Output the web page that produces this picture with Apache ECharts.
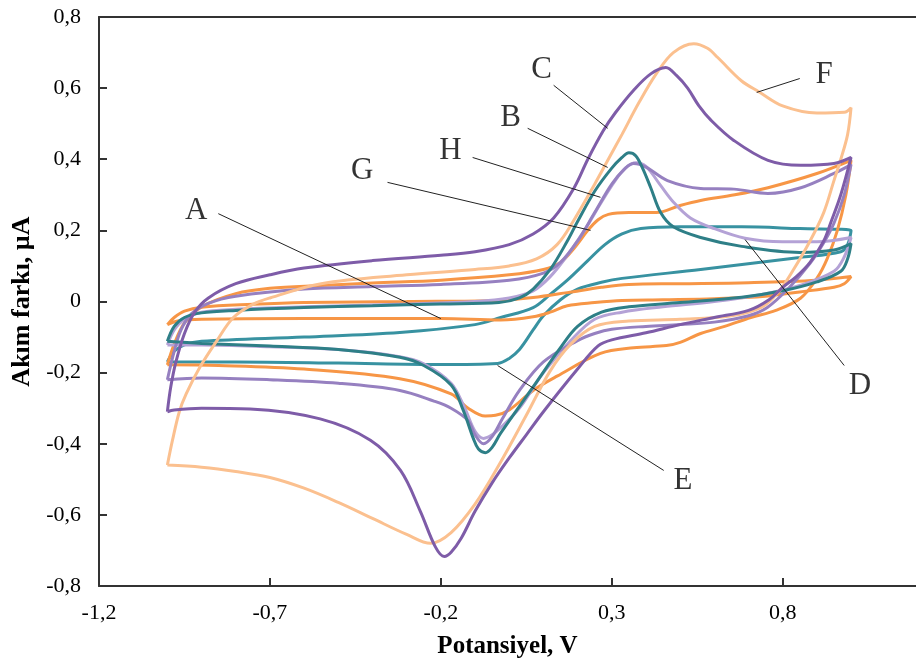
<!DOCTYPE html>
<html><head><meta charset="utf-8">
<script src="https://cdn.jsdelivr.net/npm/echarts@6/dist/echarts.min.js"></script>
<style>html,body{margin:0;padding:0;background:#fff}#chart{width:916px;height:667px}</style>
</head><body><div id="chart"></div>
<script>
// Cyclic voltammograms: [potential V, current µA], forward scan then reverse scan
const curveA = [[-1.0,-0.065],[-0.98,-0.045],[-0.95,-0.027],[-0.9,-0.016],[-0.75,-0.008],[-0.6,-0.003],[-0.3,0.0],[-0.03,0.003],[0.07,0.011],[0.17,0.025],[0.27,0.04],[0.35,0.048],[0.5,0.05],[0.7,0.053],[0.9,0.06],[1.0,0.07],
  [0.98,0.05],[0.95,0.04],[0.85,0.027],[0.75,0.015],[0.6,0.008],[0.45,0.005],[0.33,0.003],[0.25,-0.003],[0.17,-0.012],[0.12,-0.03],[0.07,-0.043],[-0.025,-0.052],[-0.2,-0.048],[-0.6,-0.048],[-0.9,-0.05],[-0.97,-0.055],[-1.0,-0.065]];
const curveB = [[-1.0,-0.112],[-0.98,-0.07],[-0.95,-0.045],[-0.9,-0.032],[-0.8,-0.025],[-0.6,-0.017],[-0.4,-0.012],[-0.2,-0.007],[-0.03,-0.003],[0.03,0.01],[0.07,0.035],[0.12,0.09],[0.17,0.17],[0.2,0.225],[0.25,0.31],[0.3,0.375],[0.33,0.405],[0.35,0.418],[0.37,0.41],[0.39,0.375],[0.414,0.32],[0.443,0.25],[0.48,0.21],[0.56,0.18],[0.68,0.155],[0.85,0.138],[0.95,0.145],[1.0,0.163],
  [0.99,0.12],[0.97,0.085],[0.9,0.055],[0.8,0.03],[0.68,0.012],[0.5,-0.003],[0.35,-0.015],[0.27,-0.03],[0.2,-0.07],[0.15,-0.13],[0.07,-0.24],[-0.025,-0.37],[-0.05,-0.41],[-0.07,-0.425],[-0.09,-0.415],[-0.105,-0.385],[-0.134,-0.307],[-0.17,-0.235],[-0.25,-0.18],[-0.32,-0.157],[-0.5,-0.135],[-0.7,-0.125],[-0.9,-0.118],[-1.0,-0.112]];
const curveC = [[-1.0,-0.31],[-0.99,-0.24],[-0.975,-0.17],[-0.95,-0.09],[-0.92,-0.03],[-0.88,0.01],[-0.8,0.05],[-0.7,0.075],[-0.6,0.094],[-0.4,0.115],[-0.2,0.13],[-0.1,0.14],[0.0,0.16],[0.07,0.19],[0.13,0.235],[0.19,0.32],[0.23,0.4],[0.275,0.48],[0.31,0.53],[0.364,0.594],[0.414,0.64],[0.458,0.658],[0.49,0.635],[0.522,0.6],[0.555,0.55],[0.59,0.51],[0.657,0.453],[0.757,0.397],[0.853,0.383],[0.95,0.388],[1.0,0.405],
  [0.97,0.3],[0.94,0.22],[0.92,0.17],[0.88,0.11],[0.84,0.07],[0.8,0.04],[0.76,0.005],[0.7,-0.025],[0.6,-0.045],[0.5,-0.065],[0.4,-0.088],[0.3,-0.108],[0.26,-0.125],[0.2,-0.19],[0.1,-0.31],[0.05,-0.375],[0.0,-0.44],[-0.05,-0.51],[-0.1,-0.59],[-0.14,-0.665],[-0.17,-0.705],[-0.19,-0.717],[-0.216,-0.69],[-0.26,-0.59],[-0.318,-0.475],[-0.406,-0.39],[-0.553,-0.33],[-0.758,-0.302],[-0.9,-0.3],[-0.98,-0.305],[-1.0,-0.31]];
const curveD = [[-1.0,-0.122],[-0.98,-0.08],[-0.95,-0.05],[-0.9,-0.03],[-0.8,-0.022],[-0.6,-0.015],[-0.3,-0.007],[-0.1,0.0],[0.0,0.01],[0.07,0.03],[0.12,0.07],[0.17,0.13],[0.22,0.2],[0.27,0.28],[0.31,0.34],[0.34,0.375],[0.37,0.39],[0.4,0.38],[0.44,0.33],[0.48,0.28],[0.53,0.235],[0.6,0.205],[0.69,0.178],[0.8,0.168],[0.9,0.168],[1.0,0.18],
  [0.98,0.125],[0.95,0.085],[0.85,0.045],[0.75,0.022],[0.6,0.0],[0.45,-0.015],[0.33,-0.03],[0.25,-0.05],[0.18,-0.11],[0.1,-0.2],[0.03,-0.3],[-0.02,-0.35],[-0.05,-0.375],[-0.075,-0.385],[-0.1,-0.365],[-0.13,-0.3],[-0.17,-0.23],[-0.25,-0.175],[-0.32,-0.155],[-0.5,-0.135],[-0.7,-0.127],[-0.9,-0.122],[-1.0,-0.122]];
const curveE = [[-1.0,-0.17],[-0.98,-0.14],[-0.95,-0.122],[-0.9,-0.112],[-0.6,-0.1],[-0.32,-0.087],[-0.1,-0.065],[-0.025,-0.045],[0.07,-0.017],[0.12,0.02],[0.17,0.06],[0.23,0.115],[0.28,0.16],[0.33,0.19],[0.385,0.205],[0.5,0.21],[0.68,0.21],[0.85,0.205],[1.0,0.2],
  [0.99,0.16],[0.97,0.14],[0.85,0.124],[0.56,0.09],[0.33,0.065],[0.27,0.054],[0.2,0.035],[0.15,0.005],[0.1,-0.04],[0.07,-0.08],[0.03,-0.135],[0.0,-0.16],[-0.034,-0.174],[-0.2,-0.177],[-0.5,-0.173],[-0.8,-0.17],[-1.0,-0.17]];
const curveF = [[-1.0,-0.46],[-0.985,-0.39],[-0.965,-0.31],[-0.945,-0.26],[-0.905,-0.185],[-0.855,-0.11],[-0.807,-0.045],[-0.75,-0.008],[-0.7,0.01],[-0.55,0.05],[-0.3,0.075],[-0.1,0.09],[0.0,0.1],[0.08,0.12],[0.14,0.16],[0.19,0.23],[0.25,0.33],[0.29,0.4],[0.33,0.47],[0.38,0.56],[0.43,0.64],[0.48,0.7],[0.54,0.725],[0.58,0.712],[0.61,0.686],[0.68,0.62],[0.73,0.59],[0.8,0.55],[0.9,0.53],[0.98,0.532],[1.0,0.545],
  [0.99,0.47],[0.97,0.4],[0.95,0.34],[0.92,0.25],[0.88,0.17],[0.83,0.087],[0.79,0.03],[0.74,-0.015],[0.65,-0.04],[0.5,-0.05],[0.35,-0.055],[0.25,-0.07],[0.18,-0.12],[0.12,-0.195],[0.05,-0.32],[-0.03,-0.46],[-0.1,-0.57],[-0.17,-0.65],[-0.23,-0.68],[-0.3,-0.655],[-0.4,-0.61],[-0.5,-0.565],[-0.6,-0.525],[-0.7,-0.495],[-0.8,-0.478],[-0.9,-0.466],[-1.0,-0.46]];
const curveG = [[-1.0,-0.178],[-0.98,-0.12],[-0.95,-0.06],[-0.9,-0.015],[-0.8,0.022],[-0.7,0.037],[-0.55,0.045],[-0.4,0.052],[-0.2,0.06],[0.0,0.075],[0.1,0.09],[0.15,0.11],[0.19,0.15],[0.23,0.2],[0.26,0.23],[0.29,0.245],[0.35,0.25],[0.43,0.25],[0.5,0.27],[0.56,0.284],[0.66,0.3],[0.757,0.32],[0.9,0.36],[1.0,0.397],
  [0.985,0.3],[0.96,0.2],[0.93,0.12],[0.9,0.065],[0.853,0.01],[0.78,-0.025],[0.707,-0.045],[0.63,-0.07],[0.56,-0.09],[0.5,-0.115],[0.46,-0.124],[0.364,-0.13],[0.267,-0.146],[0.14,-0.21],[0.07,-0.25],[0.0,-0.305],[-0.04,-0.32],[-0.07,-0.322],[-0.12,-0.3],[-0.17,-0.26],[-0.32,-0.217],[-0.6,-0.19],[-0.85,-0.18],[-1.0,-0.178]];
const curveH = [[-1.0,-0.22],[-0.98,-0.14],[-0.96,-0.08],[-0.93,-0.035],[-0.88,-0.005],[-0.8,0.015],[-0.6,0.035],[-0.4,0.042],[-0.2,0.048],[0.0,0.06],[0.1,0.08],[0.15,0.11],[0.2,0.17],[0.25,0.25],[0.3,0.33],[0.34,0.375],[0.364,0.388],[0.4,0.378],[0.463,0.34],[0.56,0.318],[0.657,0.316],[0.757,0.304],[0.853,0.32],[0.95,0.36],[1.0,0.385],
  [0.98,0.3],[0.95,0.22],[0.92,0.165],[0.88,0.107],[0.82,0.04],[0.755,-0.017],[0.7,-0.04],[0.6,-0.058],[0.5,-0.065],[0.4,-0.07],[0.3,-0.078],[0.25,-0.09],[0.2,-0.11],[0.1,-0.17],[0.03,-0.25],[-0.02,-0.33],[-0.05,-0.38],[-0.075,-0.4],[-0.1,-0.375],[-0.12,-0.335],[-0.17,-0.3],[-0.22,-0.28],[-0.32,-0.25],[-0.5,-0.23],[-0.7,-0.22],[-0.9,-0.215],[-1.0,-0.22]];

const curveNames = ['A','B','C','D','E','F','G','H'];
const curveColors = ['#F79646','#2E7F87','#7E5CA8','#B4A2D6','#3892A1','#FBC08F','#F79646','#9680C0'];
const drawOrder = ['E','A','G','D','H','B','F','C'];

// Annotation letters and their leader lines (data coordinates)
const labelNames = ['A','B','C','D','E','F','G','H'];
const labelPos   = [[-0.916,0.256],[0.004,0.515],[0.095,0.65],[1.026,-0.236],[0.508,-0.504],[0.921,0.636],[-0.43,0.368],[-0.172,0.425]];
const leaderStart= [[-0.851,0.247],[0.054,0.487],[0.13,0.608],[0.98,-0.18],[0.452,-0.475],[0.85,0.627],[-0.356,0.335],[-0.107,0.405]];
const leaderEnd  = [[-0.2,-0.048],[0.288,0.377],[0.288,0.487],[0.69,0.174],[-0.034,-0.18],[0.724,0.588],[0.238,0.2],[0.267,0.293]];

const curves = {A:curveA,B:curveB,C:curveC,D:curveD,E:curveE,F:curveF,G:curveG,H:curveH};
const serif = '"Liberation Serif","Times New Roman",serif';
const fmt = v => Math.abs(v) < 1e-9 ? '0' : v.toFixed(1).replace('.', ',');

const series = drawOrder.map(n => ({
  type: 'line', name: n, data: curves[n], showSymbol: false, symbol: 'none',
  smooth: 0.35, clip: true,
  lineStyle: { color: curveColors[curveNames.indexOf(n)], width: 3 },
  z: 2
}));
series.push({
  type: 'lines', coordinateSystem: 'cartesian2d', silent: true, z: 5,
  lineStyle: { color: '#222', width: 1, opacity: 1, curveness: 0 },
  data: leaderStart.map((s, i) => ({ coords: [s, leaderEnd[i]] }))
});
series.push({
  type: 'scatter', silent: true, z: 6, symbolSize: 0.1,
  itemStyle: { color: 'rgba(0,0,0,0)' },
  label: { show: true, position: 'inside', formatter: '{b}', fontFamily: serif, fontSize: 31, color: '#000' },
  data: labelNames.map((n, i) => ({ name: n, value: labelPos[i] }))
});

const chart = echarts.init(document.getElementById('chart'), null, { renderer: 'canvas' });
chart.setOption({
  animation: false,
  backgroundColor: '#fff',
  grid: { left: 99, top: 17, bottom: 81, right: 0, show: false },
  xAxis: [{
    type: 'value', min: -1.2, max: 1.19, interval: 0.5,
    name: 'Potansiyel, V', nameLocation: 'middle', nameGap: 48,
    nameTextStyle: { fontFamily: serif, fontSize: 25, fontWeight: 'bold', color: '#000' },
    axisLine: { show: true, onZero: false, lineStyle: { color: '#333', width: 2 } },
    axisTick: { show: true, inside: true, length: 8, lineStyle: { color: '#333', width: 2 } },
    axisLabel: { fontFamily: serif, fontSize: 22, color: '#000', margin: 16, showMaxLabel: false, formatter: fmt },
    splitLine: { show: false }
  }, {
    type: 'value', position: 'top', min: -1.2, max: 1.19,
    axisLine: { show: true, onZero: false, lineStyle: { color: '#333', width: 2 } },
    axisTick: { show: false }, axisLabel: { show: false }, splitLine: { show: false }
  }],
  yAxis: {
    type: 'value', min: -0.8, max: 0.8, interval: 0.2,
    name: 'Akım farkı, µA', nameLocation: 'middle', nameGap: 63, nameRotate: 90,
    nameTextStyle: { fontFamily: serif, fontSize: 26, fontWeight: 'bold', color: '#000' },
    axisLine: { show: true, onZero: false, lineStyle: { color: '#333', width: 2 } },
    axisTick: { show: true, inside: true, length: 8, lineStyle: { color: '#333', width: 2 } },
    axisLabel: { fontFamily: serif, fontSize: 22, color: '#000', margin: 18, formatter: fmt },
    splitLine: { show: false }
  },
  series: series
});
</script>
</body></html>
